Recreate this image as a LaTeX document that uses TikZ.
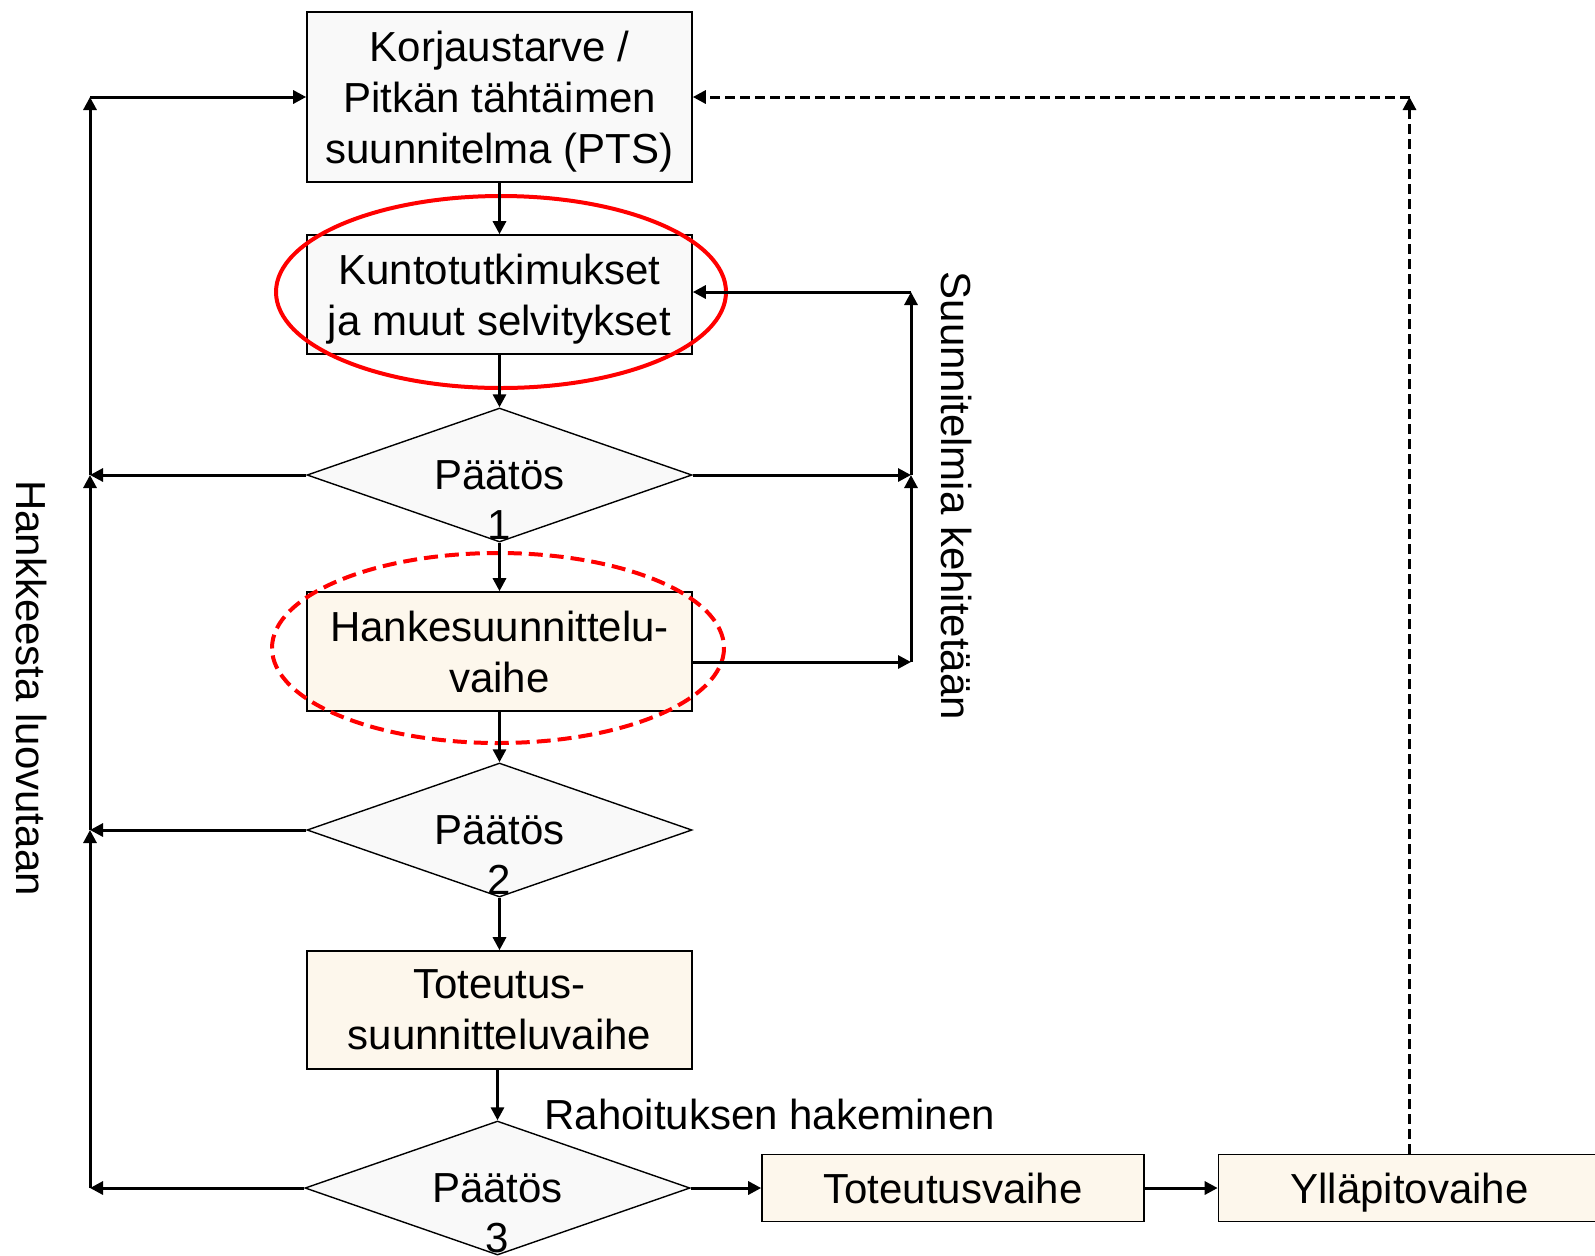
\documentclass[tikz,border=0pt]{standalone}
\usepackage{fontspec}
\setmainfont{Liberation Sans}
\usetikzlibrary{shapes.geometric,arrows.meta}

\definecolor{paleGrey}{HTML}{F9F9F9}
\definecolor{paleCream}{HTML}{FDF7EC}
\definecolor{markRed}{HTML}{FF0000}

\tikzset{
  phase/.style={draw, line width=0.8pt, fill=paleGrey, align=center,
    minimum width=192.5pt, inner sep=0pt, text depth=0pt,
    font=\fontsize{21}{25.5}\selectfont},
  work/.style={phase, fill=paleCream},
  decision/.style={diamond, draw, line width=0.7pt, fill=paleGrey,
    minimum width=192.5pt, minimum height=67pt, inner sep=0pt},
  verdict/.style={align=center, inner sep=0pt, font=\fontsize{21}{25}\selectfont},
  sidenote/.style={inner sep=0pt, font=\fontsize{21}{25}\selectfont},
  conn/.style={line width=1.5pt, -{Triangle[length=6.5pt,width=6.5pt]}},
  loopback/.style={conn, dash pattern=on 5pt off 2.5pt},
  focus/.style={draw=markRed, line width=2pt},
}

\begin{document}
\begin{tikzpicture}[x=0.5pt, y=-0.5pt]
  \useasboundingbox[fill=white] (0,0) rectangle (1595,1255);

  % main column
  \node[phase, minimum height=85pt] (pts) at (499.5,97)
    {Korjaustarve /\\Pitkän tähtäimen\\suunnitelma (PTS)};
  \node[phase, minimum height=59.5pt] (kunto) at (499.5,294.5)
    {Kuntotutkimukset\\ja muut selvitykset};
  \node[decision] (p1) at (499.5,475) {};
  \node[verdict] (p1text) at (499.5,500) {Päätös\\1};
  \node[work, minimum height=59.5pt] (hanke) at (499.5,651.5)
    {Hankesuunnittelu-\\vaihe};
  \node[decision] (p2) at (499.5,830) {};
  \node[verdict] (p2text) at (499.5,855) {Päätös\\2};
  \node[work, minimum height=59pt] (toteutus) at (499.5,1010)
    {Toteutus-\\suunnitteluvaihe};
  \node[decision] (p3) at (497.5,1188) {};
  \node[verdict] (p3text) at (497.5,1213) {Päätös\\3};

  % bottom row
  \node[work, minimum width=191pt, minimum height=33.5pt] (tvaihe) at (953,1188)
    {Toteutusvaihe};
  \node[work, minimum width=191pt, minimum height=33.5pt] (yvaihe) at (1409.5,1188)
    {Ylläpitovaihe};

  % side texts
  \node[sidenote, rotate=-90] (luovutus) at (32,688) {Hankkeesta luovutaan};
  \node[sidenote, rotate=-90] (kehitys) at (956,496) {Suunnitelmia kehitetään};
  \node[sidenote, anchor=west] (rahoitus) at (544,1114) {Rahoituksen hakeminen};

  % red marks
  \draw[focus] (501,292) ellipse [x radius=225, y radius=96];
  \draw[focus, dash pattern=on 7pt off 3.5pt] (498,648) ellipse [x radius=226, y radius=95];

  % flow down
  \draw[conn] (pts) -- (kunto);
  \draw[conn] (kunto) -- (p1.north);
  \draw[conn] (p1.south) -- (hanke);
  \draw[conn] (hanke) -- (p2.north);
  \draw[conn] (p2.south) -- (toteutus);
  \draw[conn] (toteutus.south -| p3.north) -- (p3.north);
  \draw[conn] (p3.east) -- (tvaihe);
  \draw[conn] (tvaihe) -- (yvaihe);

  % left: give up
  \coordinate (l0) at (90,97);
  \coordinate (l1) at (l0 |- p1.west);
  \coordinate (l2) at (l0 |- p2.west);
  \coordinate (l3) at (l0 |- p3.west);
  \draw[conn] (p1.west) -- (l1);
  \draw[conn] (p2.west) -- (l2);
  \draw[conn] (p3.west) -- (l3);
  \draw[conn] (l3) -- (l2);
  \draw[conn] (l2) -- (l1);
  \draw[conn] (l1) -- (l0);
  \draw[conn] (l0) -- (pts.west);

  % right: develop plans
  \coordinate (s0) at (911,292);
  \coordinate (s1) at (s0 |- p1.east);
  \coordinate (s2) at (911,662);
  \draw[conn] (p1.east) -- (s1);
  \draw[conn] (hanke.east |- s2) -- (s2);
  \draw[conn] (s2) -- (s1);
  \draw[conn] (s1) -- (s0);
  \draw[conn] (s0) -- (kunto.east |- s0);

  % maintenance back to PTS
  \coordinate (m0) at (yvaihe.north |- pts.east);
  \draw[loopback] (yvaihe.north) -- (m0);
  \draw[loopback] (m0) -- (pts.east);
\end{tikzpicture}
\end{document}
